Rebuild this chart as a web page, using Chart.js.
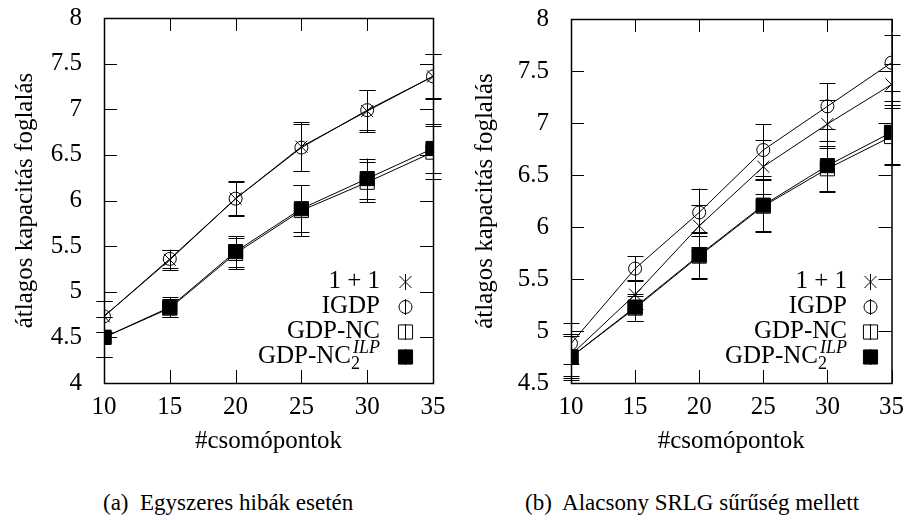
<!DOCTYPE html>
<html>
<head>
<meta charset="utf-8">
<script src="https://cdn.jsdelivr.net/npm/chart.js@4.4.1/dist/chart.umd.min.js"></script>
<style>
  body { margin: 0; background: #fff; width: 913px; height: 520px; position: relative; overflow: hidden; }
  canvas { position: absolute; top: 0; }
  .caption { position: absolute; top: 491px; font-family: 'Liberation Serif', 'Times New Roman', Times, serif; font-size: 23px; line-height: 1; color: #000; white-space: pre; }
</style>
</head>
<body>
<canvas id="chartA" width="460" height="470" style="left:0"></canvas>
<canvas id="chartB" width="453" height="470" style="left:460px"></canvas>
<div class="caption" style="left:103px">(a)  Egyszeres hibák esetén</div>
<div class="caption" style="left:525px">(b)  Alacsony SRLG sűrűség mellett</div>
<script>
// number of nodes on the x axis
const nodes = [10, 15, 20, 25, 30, 35];
const seriesNames = ['1 + 1', 'IGDP', 'GDP-NC', 'GDP-NC'];

// (a) Egyszeres hibák esetén
const a_oneplusone = [4.73, 5.35, 6.02, 6.59, 6.98, 7.36];
const a_oneplusoneErr = [0.17, 0.11, 0.19, 0.27, 0.23, 0.25];
const a_igdp = [4.73, 5.36, 6.02, 6.58, 6.99, 7.36];
const a_igdpErr = [0.17, 0.10, 0.18, 0.26, 0.22, 0.24];
const a_gdpnc = [4.50, 4.82, 5.42, 5.89, 6.20, 6.53];
const a_gdpncErr = [0.22, 0.10, 0.17, 0.28, 0.22, 0.29];
const a_ilp = [4.50, 4.83, 5.44, 5.91, 6.24, 6.57];
const a_ilpErr = [0.22, 0.11, 0.17, 0.26, 0.22, 0.27];

// (b) Alacsony SRLG sűrűség mellett
const b_oneplusone = [4.77, 5.35, 6.01, 6.58, 6.99, 7.37];
const b_oneplusoneErr = [0.20, 0.14, 0.20, 0.26, 0.23, 0.20];
const b_igdp = [4.88, 5.60, 6.14, 6.74, 7.16, 7.58];
const b_igdpErr = [0.20, 0.12, 0.23, 0.25, 0.22, 0.27];
const b_gdpnc = [4.75, 5.22, 5.72, 6.20, 6.56, 6.87];
const b_gdpncErr = [0.20, 0.12, 0.22, 0.25, 0.22, 0.27];
const b_ilp = [4.75, 5.23, 5.73, 6.21, 6.59, 6.91];
const b_ilpErr = [0.22, 0.13, 0.22, 0.25, 0.24, 0.30];

const FONT = "'Liberation Serif', 'Times New Roman', Times, serif";

function makeSets(vals, errs) {
  const looks = [
    { style: 'crossRot', r: 8.5, bg: 'rgba(0,0,0,0)' },
    { style: 'circle', r: 6.5, bg: 'rgba(0,0,0,0)' },
    { style: 'rect', r: 10, bg: 'rgba(0,0,0,0)' },
    { style: 'rect', r: 10, bg: '#000' },
  ];
  return vals.map((v, i) => ({
    label: seriesNames[i],
    data: nodes.map((n, j) => ({ x: n, y: v[j] })),
    errors: errs[i],
    borderColor: '#000',
    borderWidth: 1,
    backgroundColor: looks[i].bg,
    pointStyle: looks[i].style,
    pointRadius: looks[i].r,
    pointBorderWidth: 1,
    pointBorderColor: '#000',
    pointBackgroundColor: looks[i].bg,
    tension: 0,
    fill: false,
    order: 3 - i,
  }));
}

// gnuplot style frame, inward ticks and error bars
const gnuFrame = {
  id: 'gnuFrame',
  beforeDatasetsDraw(chart) {
    const { ctx, chartArea: a, scales: { x, y } } = chart;
    ctx.save();
    ctx.strokeStyle = '#000';
    ctx.lineWidth = 1;
    ctx.beginPath();
    x.ticks.forEach(t => {
      const px = Math.round(x.getPixelForValue(t.value)) + 0.5;
      ctx.moveTo(px, a.bottom); ctx.lineTo(px, a.bottom - 13);
      ctx.moveTo(px, a.top); ctx.lineTo(px, a.top + 13);
    });
    y.ticks.forEach(t => {
      const py = Math.round(y.getPixelForValue(t.value)) + 0.5;
      ctx.moveTo(a.left, py); ctx.lineTo(a.left + 13, py);
      ctx.moveTo(a.right, py); ctx.lineTo(a.right - 13, py);
    });
    ctx.stroke();
    ctx.lineWidth = 1.5;
    ctx.strokeRect(a.left + 0.5, a.top + 0.5, a.right - a.left, a.bottom - a.top);

    ctx.lineWidth = 1;
    chart.data.datasets.forEach((ds, i) => {
      const meta = chart.getDatasetMeta(i);
      meta.data.forEach((pt, j) => {
        const v = ds.data[j].y, e = ds.errors[j];
        const y1 = y.getPixelForValue(v - e), y2 = y.getPixelForValue(v + e);
        const px = Math.round(pt.x) + 0.5;
        ctx.beginPath();
        ctx.moveTo(px, y1); ctx.lineTo(px, y2);
        ctx.moveTo(px - 8, Math.round(y1) + 0.5); ctx.lineTo(px + 8, Math.round(y1) + 0.5);
        ctx.moveTo(px - 8, Math.round(y2) + 0.5); ctx.lineTo(px + 8, Math.round(y2) + 0.5);
        ctx.stroke();
      });
    });
    ctx.restore();
  }
};

// key with sub/superscript for the last entry
const texLegend = {
  id: 'texLegend',
  afterDraw(chart, args, opts) {
    const ctx = chart.ctx;
    ctx.save();
    chart.data.datasets.forEach((ds, i) => {
      const base = opts.top + i * 25;
      ctx.fillStyle = '#000';
      ctx.textBaseline = 'alphabetic';
      if (i === 3) {
        ctx.font = '25px ' + FONT;
        const w1 = ctx.measureText(ds.label).width;
        ctx.font = 'italic 18px ' + FONT;
        const wSup = ctx.measureText('ILP').width;
        const start = opts.textRight - w1 - wSup - 2;
        ctx.textAlign = 'left';
        ctx.font = '25px ' + FONT;
        ctx.fillText(ds.label, start, base);
        ctx.font = '18px ' + FONT;
        ctx.fillText('2', start + w1, base + 6);
        ctx.font = 'italic 18px ' + FONT;
        ctx.fillText('ILP', start + w1 + 2, base - 10);
      } else {
        ctx.font = '25px ' + FONT;
        ctx.textAlign = 'right';
        ctx.fillText(ds.label, opts.textRight, base);
      }
      const mx = opts.markerX + 0.5, my = base - 6;
      ctx.strokeStyle = '#000';
      ctx.lineWidth = 1;
      ctx.beginPath(); ctx.moveTo(mx, my - 8); ctx.lineTo(mx, my + 8); ctx.stroke();
      ctx.fillStyle = ds.pointBackgroundColor;
      Chart.helpers.drawPoint(ctx, { pointStyle: ds.pointStyle, radius: ds.pointRadius, rotation: 0, borderWidth: 1 }, mx, my);
    });
    ctx.restore();
  }
};

function makeOptions(yMin, yMax, yWidth, padRight, padTop, legendOpts) {
  return {
    responsive: false,
    animation: false,
    layout: { padding: { top: padTop, right: padRight, left: 0, bottom: 0 } },
    plugins: { legend: { display: false }, tooltip: { enabled: false }, texLegend: legendOpts },
    scales: {
      x: {
        type: 'linear', min: 10, max: 35,
        grid: { display: false, drawTicks: false },
        border: { display: false },
        ticks: { stepSize: 5, padding: 9, color: '#000', font: { family: FONT, size: 25 } },
        title: { display: true, text: '#csomópontok', color: '#000', font: { family: FONT, size: 25 }, padding: { top: 0, bottom: 14 } },
        afterFit(s) { s.height = 87; }
      },
      y: {
        min: yMin, max: yMax,
        grid: { display: false, drawTicks: false },
        border: { display: false },
        ticks: { stepSize: 0.5, padding: 22, color: '#000', font: { family: FONT, size: 25 }, callback: v => String(v) },
        title: { display: true, text: 'átlagos kapacitás foglalás', color: '#000', font: { family: FONT, size: 25 }, padding: { top: 10, bottom: 0 } },
        afterFit(s) { s.width = yWidth; s.paddingTop = 0; s.paddingBottom = 0; }
      }
    }
  };
}

new Chart(document.getElementById('chartA'), {
  type: 'line',
  data: { datasets: makeSets([a_oneplusone, a_igdp, a_gdpnc, a_ilp], [a_oneplusoneErr, a_igdpErr, a_gdpncErr, a_ilpErr]) },
  options: makeOptions(4, 8, 104, 27, 18, { top: 288, textRight: 380, markerX: 405 }),
  plugins: [gnuFrame, texLegend]
});

new Chart(document.getElementById('chartB'), {
  type: 'line',
  data: { datasets: makeSets([b_oneplusone, b_igdp, b_gdpnc, b_ilp], [b_oneplusoneErr, b_igdpErr, b_gdpncErr, b_ilpErr]) },
  options: makeOptions(4.5, 8, 111, 13, 19, { top: 288, textRight: 387, markerX: 410 }),
  plugins: [gnuFrame, texLegend]
});
</script>
</body>
</html>
